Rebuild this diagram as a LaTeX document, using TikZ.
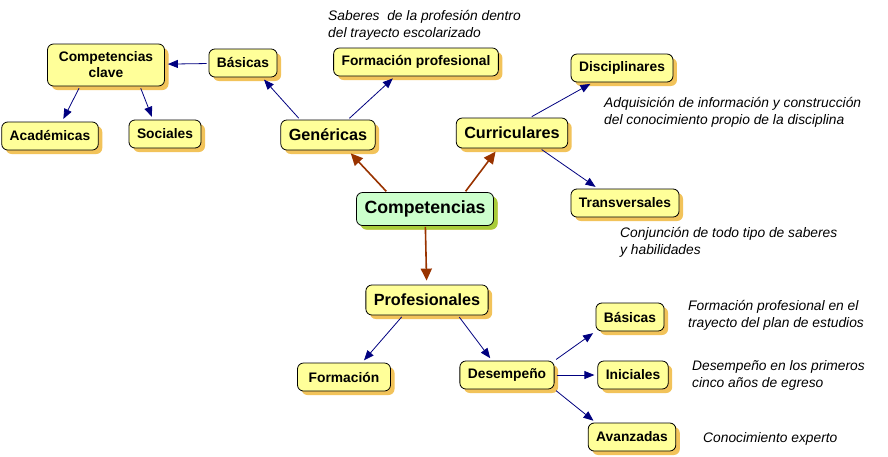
\documentclass[tikz,border=0pt]{standalone}
\usepackage{fontspec}
\setmainfont{Liberation Sans}
\usetikzlibrary{arrows.meta, shadows}

\definecolor{amarillo}{HTML}{FFFF99}
\definecolor{sombra}{HTML}{F2C35A}
\definecolor{verde}{HTML}{CCFFCC}
\definecolor{sombraverde}{HTML}{A8CC3A}
\definecolor{azul}{HTML}{000080}
\definecolor{cafe}{HTML}{993300}

\tikzset{
  caja/.style={draw=black, fill=amarillo, rounded corners=6pt, line width=0.8pt,
    drop shadow={shadow xshift=4pt, shadow yshift=-4pt, fill=sombra, opacity=1},
    inner xsep=8pt, minimum height=28pt, align=center,
    font=\fontsize{13.8}{16}\selectfont\bfseries},
  media/.style={caja, font=\fontsize{16.2}{18}\selectfont\bfseries, minimum height=30pt},
  raiz/.style={caja, fill=verde, font=\fontsize{17.7}{20}\selectfont\bfseries, minimum height=33pt,
    drop shadow={shadow xshift=4pt, shadow yshift=-4pt, fill=sombraverde, opacity=1}},
  nota/.style={anchor=north west, inner sep=0pt, align=left,
    font=\fontsize{13.8}{17.5}\selectfont\itshape},
  azulflecha/.style={azul, line width=0.8pt, -{Triangle[length=10pt, width=8pt]}, shorten <=2pt, shorten >=3pt},
  cafeflecha/.style={cafe, line width=1.6pt, -{Triangle[length=12pt, width=11pt]}, shorten <=1pt, shorten >=4pt}
}

\begin{document}
\begin{tikzpicture}[x=1pt, y=-1pt]
  \useasboundingbox[fill=white] (0,0) rectangle (888,456);

  \node[raiz] (comp) at (425,209) {Competencias};

  \node[media] (gen) at (328,135) {Genéricas};
  \node[media] (cur) at (512,133) {Curriculares};
  \node[media] (prof) at (427,300) {Profesionales};

  \node[caja, minimum height=42pt, minimum width=117pt] (clave) at (106,65) {Competencias\\clave};
  \node[caja] (acad) at (50,136) {Académicas};
  \node[caja] (soc) at (165,134) {Sociales};
  \node[caja] (bas) at (243,63) {Básicas};
  \node[caja] (fprof) at (416,62) {Formación profesional};

  \node[caja] (disc) at (622,68) {Disciplinares};
  \node[caja] (trans) at (625,203) {Transversales};

  \node[caja, minimum width=93pt] (form) at (344,377) {Formación};
  \node[caja] (des) at (507,375) {Desempeño};
  \node[caja] (basb) at (630,317) {Básicas};
  \node[caja] (ini) at (633,375) {Iniciales};
  \node[caja] (avz) at (632,437) {Avanzadas};

  \node[nota] (n1) at (328,10) {Saberes\ \ de la profesión dentro\\del trayecto escolarizado};
  \node[nota] (n2) at (604,97) {Adquisición de información y construcción\\del conocimiento propio de la disciplina};
  \node[nota] (n3) at (620,227) {Conjunción de todo tipo de saberes\\y habilidades};
  \node[nota] (n4) at (688,300) {Formación profesional en el\\trayecto del plan de estudios};
  \node[nota] (n5) at (692,360) {Desempeño en los primeros\\cinco años de egreso};
  \node[nota] (n6) at (703,432) {Conocimiento experto};

  \draw[cafeflecha] ([xshift=-38pt]comp.north) -- ([xshift=20pt]gen.south);
  \draw[cafeflecha] ([xshift=40pt]comp.north) -- ([xshift=-14pt]cur.south);
  \draw[cafeflecha] (comp) -- (prof);

  \draw[azulflecha] (bas) -- (clave);
  \draw[azulflecha] ([xshift=-26pt]clave.south) -- ([xshift=12pt]acad.north);
  \draw[azulflecha] ([xshift=34pt]clave.south) -- ([xshift=-12pt]soc.north);
  \draw[azulflecha] ([xshift=-28pt]gen.north) -- ([xshift=19pt]bas.south);
  \draw[azulflecha] ([xshift=20pt]gen.north) -- ([xshift=-21pt]fprof.south);
  \draw[azulflecha] ([xshift=18pt]cur.north) -- ([xshift=-29pt]disc.south);
  \draw[azulflecha] ([xshift=28pt]cur.south) -- ([xshift=-27pt]trans.north);
  \draw[azulflecha] ([xshift=-24pt]prof.south) -- ([xshift=18pt]form.north);
  \draw[azulflecha] ([xshift=31pt]prof.south) -- ([xshift=-15pt]des.north);
  \draw[azulflecha] (des.north east) -- (basb.south west);
  \draw[azulflecha] (des) -- (ini);
  \draw[azulflecha] (des.south east) -- ([xshift=8pt]avz.north west);
\end{tikzpicture}
\end{document}
